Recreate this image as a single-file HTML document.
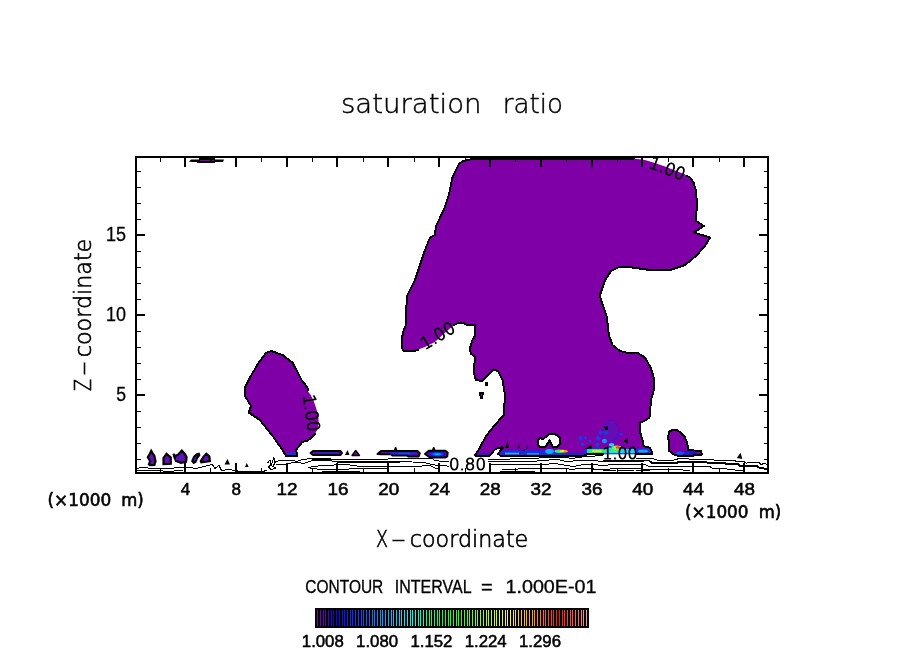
<!DOCTYPE html>
<html lang="en"><head><meta charset="utf-8"><title>saturation ratio</title>
<style>
html,body{margin:0;padding:0;background:#fff;}
body{width:904px;height:654px;overflow:hidden;position:relative;}
svg{position:absolute;left:0;top:0;display:block;}
text{font-family:"DejaVu Sans","Liberation Sans",sans-serif;fill:#000;}
.lt{font-family:"DejaVu Sans Light","DejaVu Sans","Liberation Sans",sans-serif;stroke:#000;stroke-width:0.45;}
.lt2{font-family:"DejaVu Sans Light","DejaVu Sans","Liberation Sans",sans-serif;stroke:#000;stroke-width:0.65;}
.lc{font-family:"DejaVu Sans Light","DejaVu Sans","Liberation Sans",sans-serif;stroke:#000;stroke-width:0.9;}
.lb2{font-family:"Liberation Sans","DejaVu Sans",sans-serif;stroke:#000;stroke-width:0.3;}
.lb3{font-family:"DejaVu Sans","Liberation Sans",sans-serif;stroke:#000;stroke-width:0.6;}
.lb{font-family:"Liberation Sans","DejaVu Sans",sans-serif;stroke:#000;stroke-width:0.5;}
.ol{fill:none;stroke:#000;stroke-width:2;stroke-linejoin:round;stroke-linecap:round;shape-rendering:crispEdges;}
.cl{fill:none;stroke:#000;stroke-width:1;shape-rendering:crispEdges;}
.tk{stroke:#000;}
</style></head><body>
<svg width="904" height="654" viewBox="0 0 904 654">
<defs>
<linearGradient id="cb" x1="0" y1="0" x2="1" y2="0">
<stop offset="0" stop-color="#8000A8"/>
<stop offset="0.04" stop-color="#6000c0"/>
<stop offset="0.09" stop-color="#0000d0"/>
<stop offset="0.16" stop-color="#0030ff"/>
<stop offset="0.25" stop-color="#0090ff"/>
<stop offset="0.33" stop-color="#00e0ff"/>
<stop offset="0.4" stop-color="#00ffc0"/>
<stop offset="0.48" stop-color="#00ff40"/>
<stop offset="0.56" stop-color="#40ff00"/>
<stop offset="0.64" stop-color="#b0ff00"/>
<stop offset="0.72" stop-color="#ffff00"/>
<stop offset="0.8" stop-color="#ffb000"/>
<stop offset="0.86" stop-color="#ff6000"/>
<stop offset="0.91" stop-color="#ff1000"/>
<stop offset="0.94" stop-color="#ff4040"/>
<stop offset="1.0" stop-color="#ff9090"/>
</linearGradient>
<radialGradient id="gy"><stop offset="0" stop-color="#e0ff00"/><stop offset="0.35" stop-color="#00ff60"/><stop offset="0.65" stop-color="#00c0ff"/><stop offset="1" stop-color="#1020d0"/></radialGradient>
<radialGradient id="gc"><stop offset="0" stop-color="#40ffb0"/><stop offset="0.45" stop-color="#00d0ff"/><stop offset="1" stop-color="#1020d0"/></radialGradient>
<radialGradient id="gr"><stop offset="0" stop-color="#ff3000"/><stop offset="0.4" stop-color="#ffd000"/><stop offset="0.7" stop-color="#00e0ff"/><stop offset="1" stop-color="#1030e0"/></radialGradient>
<radialGradient id="gb"><stop offset="0" stop-color="#00d8ff"/><stop offset="0.5" stop-color="#0060ff"/><stop offset="1" stop-color="#2000c0"/></radialGradient>
<radialGradient id="gd"><stop offset="0" stop-color="#0040ff"/><stop offset="0.6" stop-color="#1010d0"/><stop offset="1" stop-color="#5000b8"/></radialGradient>
<filter id="bl" x="-5%" y="-5%" width="110%" height="110%"><feGaussianBlur stdDeviation="0.55"/></filter>
</defs>
<rect x="0" y="0" width="904" height="654" fill="#fff"/>
<path d="M490.0,158.6 L468.0,159.6 L463.0,161.0 L459.5,163.5 L457.5,167.0 L452.5,177.5 L448.8,195.0 L443.8,210.0 L436.0,226.0 L435.0,235.0 L430.0,237.5 L425.0,250.0 L420.0,265.0 L415.0,280.0 L407.5,295.0 L406.0,310.0 L405.5,326.0 L403.0,332.0 L401.5,343.0 L402.0,348.0 L404.0,351.3 L413.0,351.3 L418.0,349.8 L425.0,346.9 L434.9,341.9 L444.8,333.0 L453.8,325.0 L457.8,323.0 L462.7,322.5 L466.7,325.0 L475.2,325.0 L475.2,335.0 L471.7,341.9 L469.7,349.8 L471.2,353.8 L475.0,356.5 L473.8,372.5 L476.0,380.0 L482.5,381.0 L488.8,373.8 L493.8,369.5 L498.0,371.0 L502.5,380.0 L505.0,395.0 L503.8,415.0 L495.0,425.0 L486.0,436.0 L480.0,447.5 L475.0,455.5 L476.0,456.2 L488.0,456.2 L491.0,454.6 L494.0,450.5 L496.0,448.7 L502.0,447.2 L503.0,448.2 L498.0,453.6 L500.0,455.5 L584.0,455.5 L587.0,454.3 L603.0,454.3 L637.0,454.3 L652.3,454.3 L651.5,451.0 L650.0,447.8 L643.5,446.0 L642.5,440.0 L639.5,430.0 L640.5,422.5 L645.0,420.5 L649.5,417.5 L651.0,400.0 L653.8,390.0 L653.8,377.5 L650.5,367.5 L645.0,357.5 L637.5,353.0 L627.5,353.0 L620.0,351.0 L612.5,345.0 L608.8,335.0 L607.0,317.5 L601.0,300.0 L600.0,295.0 L605.0,280.0 L611.0,271.0 L618.8,267.0 L632.5,267.5 L650.0,270.0 L670.0,270.0 L685.0,265.0 L696.0,256.0 L705.0,246.0 L710.0,237.5 L693.8,232.5 L703.8,226.0 L696.0,221.0 L697.0,202.5 L695.7,190.0 L693.7,183.0 L690.5,177.8 L686.8,176.0 L685.0,174.4 L675.0,170.4 L665.0,166.4 L655.0,163.0 L645.0,160.0 L634.0,158.6 Z M537.5,440.8 L540.0,437.8 L543.0,439.4 L545.4,437.2 L547.9,434.7 L551.5,433.6 L556.4,434.7 L560.0,438.4 L560.6,443.2 L557.6,446.9 L552.7,446.9 L550.9,443.2 L549.7,440.4 L547.9,443.2 L545.4,446.9 L540.6,447.5 L538.1,445.0 Z" fill="#8000A8" fill-rule="evenodd"/>
<path d="M315.0,433.5 L312.8,436.7 L307.5,440.5 L302.1,442.0 L298.9,446.4 L296.0,450.0 L297.5,456.0 L286.0,456.0 L282.5,450.0 L273.8,437.5 L260.0,420.0 L248.8,412.5 L251.0,406.0 L245.0,396.0 L245.0,387.5 L250.0,377.5 L258.8,362.5 L266.0,353.0 L271.0,351.0 L282.5,355.0 L292.5,362.5 L301.6,380.0 L307.5,387.5 L307.5,390.7 L310.7,395.0 L313.9,401.4 L316.0,407.8 L318.2,415.3 L318.7,422.8 L317.1,430.3 Z" fill="#8000A8"/>
<path d="M668.3,436.0 L669.5,431.5 L672.7,429.7 L678.0,430.6 L684.2,436.0 L687.4,443.0 L687.8,450.0 L701.0,451.0 L702.0,454.5 L686.9,456.3 L675.4,455.4 L669.2,451.0 Z" fill="#8000A8"/>
<clipPath id="bigclip"><path d="M490.0,158.6 L468.0,159.6 L463.0,161.0 L459.5,163.5 L457.5,167.0 L452.5,177.5 L448.8,195.0 L443.8,210.0 L436.0,226.0 L435.0,235.0 L430.0,237.5 L425.0,250.0 L420.0,265.0 L415.0,280.0 L407.5,295.0 L406.0,310.0 L405.5,326.0 L403.0,332.0 L401.5,343.0 L402.0,348.0 L404.0,351.3 L413.0,351.3 L418.0,349.8 L425.0,346.9 L434.9,341.9 L444.8,333.0 L453.8,325.0 L457.8,323.0 L462.7,322.5 L466.7,325.0 L475.2,325.0 L475.2,335.0 L471.7,341.9 L469.7,349.8 L471.2,353.8 L475.0,356.5 L473.8,372.5 L476.0,380.0 L482.5,381.0 L488.8,373.8 L493.8,369.5 L498.0,371.0 L502.5,380.0 L505.0,395.0 L503.8,415.0 L495.0,425.0 L486.0,436.0 L480.0,447.5 L475.0,455.5 L476.0,456.2 L488.0,456.2 L491.0,454.6 L494.0,450.5 L496.0,448.7 L502.0,447.2 L503.0,448.2 L498.0,453.6 L500.0,455.5 L584.0,455.5 L587.0,454.3 L603.0,454.3 L637.0,454.3 L652.3,454.3 L651.5,451.0 L650.0,447.8 L643.5,446.0 L642.5,440.0 L639.5,430.0 L640.5,422.5 L645.0,420.5 L649.5,417.5 L651.0,400.0 L653.8,390.0 L653.8,377.5 L650.5,367.5 L645.0,357.5 L637.5,353.0 L627.5,353.0 L620.0,351.0 L612.5,345.0 L608.8,335.0 L607.0,317.5 L601.0,300.0 L600.0,295.0 L605.0,280.0 L611.0,271.0 L618.8,267.0 L632.5,267.5 L650.0,270.0 L670.0,270.0 L685.0,265.0 L696.0,256.0 L705.0,246.0 L710.0,237.5 L693.8,232.5 L703.8,226.0 L696.0,221.0 L697.0,202.5 L695.7,190.0 L693.7,183.0 L690.5,177.8 L686.8,176.0 L685.0,174.4 L675.0,170.4 L665.0,166.4 L655.0,163.0 L645.0,160.0 L634.0,158.6 Z M537.5,440.8 L540.0,437.8 L543.0,439.4 L545.4,437.2 L547.9,434.7 L551.5,433.6 L556.4,434.7 L560.0,438.4 L560.6,443.2 L557.6,446.9 L552.7,446.9 L550.9,443.2 L549.7,440.4 L547.9,443.2 L545.4,446.9 L540.6,447.5 L538.1,445.0 Z" clip-rule="evenodd"/></clipPath>
<g clip-path="url(#bigclip)"><g filter="url(#bl)">
<path d="M603,442 L602,430 L606,421 L613,420 L618,426 L618.5,436 L612,443 Z" fill="#6408b6"/>
<path d="M612,441 L621,431 L623,433 L614,443 Z" fill="#5a10bc"/>
<rect x="476" y="452.5" width="16" height="3" fill="#4a10c0"/>
<rect x="501" y="450.2" width="67" height="5.3" fill="#1c2ce0"/>
<rect x="566" y="452.3" width="20" height="3.2" fill="#3018c8"/>
<rect x="585" y="448.6" width="67" height="5.6" fill="#1838e4"/>
<rect x="505" y="452.6" width="14" height="1.8" fill="#20a8ff"/>
<rect x="527" y="452.9" width="12" height="1.8" fill="#1888ff"/>
<ellipse cx="549.5" cy="451.4" rx="4.2" ry="2.3" fill="#10b0ff"/>
<ellipse cx="559" cy="451.2" rx="4.5" ry="1.7" fill="#30f060"/>
<ellipse cx="562.8" cy="451.2" rx="3" ry="1.4" fill="#e8f000"/>
<ellipse cx="565.8" cy="451.2" rx="1.9" ry="1.2" fill="#ff9000"/>
<rect x="587" y="449" width="21" height="4.4" fill="#10d0ff"/>
<rect x="589" y="449.4" width="17" height="3.4" fill="#28f068"/>
<rect x="592" y="450" width="10" height="2" fill="#b8f818"/>
<rect x="607" y="447.6" width="14" height="5.6" fill="#18e0c8"/>
<rect x="611" y="449.5" width="8" height="3" fill="#30f080"/>
<rect x="621" y="449" width="14" height="4.2" fill="#20d0e8"/>
<ellipse cx="643" cy="451.2" rx="5" ry="1.4" fill="#10a8ff"/>
<ellipse cx="604.5" cy="441" rx="2.6" ry="2.2" fill="#1090ff"/>
<ellipse cx="611.5" cy="444.8" rx="2.8" ry="1.8" fill="#20d0ff"/>
<ellipse cx="616.5" cy="447.8" rx="4.8" ry="2.3" fill="#60f080"/>
<ellipse cx="617.5" cy="447.6" rx="3.2" ry="1.7" fill="#f0e020"/>
<ellipse cx="618" cy="447.5" rx="2.4" ry="1.3" fill="#ff4010"/>
<rect x="598.7" y="430.5" width="3.8" height="3.8" fill="#2038e0" transform="rotate(45 600.6 432.4)"/>
<rect x="603.9" y="430.6" width="3.8" height="3.8" fill="#2038e0" transform="rotate(45 605.8 432.5)"/>
<rect x="578.5" y="436.3" width="3.8" height="3.8" fill="#2038e0" transform="rotate(45 580.4 438.2)"/>
<rect x="584.1" y="436.6" width="2.8" height="2.8" fill="#2038e0" transform="rotate(45 585.5 438)"/>
<rect x="595.9" y="436.09999999999997" width="4.2" height="4.2" fill="#2038e0" transform="rotate(45 598 438.2)"/>
<rect x="581.1" y="442.59999999999997" width="3.2" height="3.2" fill="#2038e0" transform="rotate(45 582.7 444.2)"/>
<rect x="595.3" y="442.7" width="4.0" height="4.0" fill="#2038e0" transform="rotate(45 597.3 444.7)"/>
<rect x="588.8" y="439.8" width="2.4" height="2.4" fill="#2038e0" transform="rotate(45 590 441)"/>
<rect x="619.8" y="432.8" width="2.4" height="2.4" fill="#2038e0" transform="rotate(45 621 434)"/>
</g></g>
<ellipse cx="687" cy="453" rx="11" ry="1.8" fill="url(#gd)"/>
<ellipse cx="680" cy="453" rx="4" ry="1.5" fill="#0060ff"/>
<ellipse cx="292" cy="454" rx="4.5" ry="2" fill="#1030e0"/>
<path class="ol" d="M634.0,158.5 L490.0,158.6 L468.0,159.6 L463.0,161.0 L459.5,163.5 L457.5,167.0 L452.5,177.5 L448.8,195.0 L443.8,210.0 L436.0,226.0 L435.0,235.0 L430.0,237.5 L425.0,250.0 L420.0,265.0 L415.0,280.0 L407.5,295.0 L406.0,310.0 L405.5,326.0 L403.0,332.0 L401.5,343.0 L402.0,348.0 L404.0,351.3 L413.0,351.3 L418.0,349.8"/>
<path class="ol" d="M453.8,325.0 L457.8,323.0 L462.7,322.5 L466.7,325.0 L475.2,325.0 L475.2,335.0 L471.7,341.9 L469.7,349.8 L471.2,353.8 L475.0,356.5 L473.8,372.5 L476.0,380.0 L482.5,381.0 L488.8,373.8 L493.8,369.5 L498.0,371.0 L502.5,380.0 L505.0,395.0 L503.8,415.0 L495.0,425.0 L486.0,436.0 L480.0,447.5 L475.0,455.5 L476.0,456.2 L488.0,456.2 L491.0,454.6 L494.0,450.5 L496.0,448.7 L502.0,447.2 L503.0,448.2 L498.0,453.6 L500.0,455.5 L584.0,455.5 L587.0,454.3 L603.0,454.3"/>
<path class="ol" d="M637.0,454.3 L652.3,454.3 L651.5,451.0 L650.0,447.8 L643.5,446.0 L642.5,440.0 L639.5,430.0 L640.5,422.5 L645.0,420.5 L649.5,417.5 L651.0,400.0 L653.8,390.0 L653.8,377.5 L650.5,367.5 L645.0,357.5 L637.5,353.0 L627.5,353.0 L620.0,351.0 L612.5,345.0 L608.8,335.0 L607.0,317.5 L601.0,300.0 L600.0,295.0 L605.0,280.0 L611.0,271.0 L618.8,267.0 L632.5,267.5 L650.0,270.0 L670.0,270.0 L685.0,265.0 L696.0,256.0 L705.0,246.0 L710.0,237.5 L693.8,232.5 L703.8,226.0 L696.0,221.0 L697.0,202.5 L695.7,190.0 L693.7,183.0 L690.5,177.8 L686.8,176.0"/>
<path class="ol" d="M537.5,440.8 L540.0,437.8 L543.0,439.4 L545.4,437.2 L547.9,434.7 L551.5,433.6 L556.4,434.7 L560.0,438.4 L560.6,443.2 L557.6,446.9 L552.7,446.9 L550.9,443.2 L549.7,440.4 L547.9,443.2 L545.4,446.9 L540.6,447.5 L538.1,445.0 Z"/>
<path class="ol" d="M315.0,433.5 L312.8,436.7 L307.5,440.5 L302.1,442.0 L298.9,446.4 L296.0,450.0 L297.5,456.0 L286.0,456.0 L282.5,450.0 L273.8,437.5 L260.0,420.0 L248.8,412.5 L251.0,406.0 L245.0,396.0 L245.0,387.5 L250.0,377.5 L258.8,362.5 L266.0,353.0 L271.0,351.0 L282.5,355.0 L292.5,362.5 L301.6,380.0 L307.5,387.5 L307.5,390.7"/>
<path class="ol" d="M668.3,436.0 L669.5,431.5 L672.7,429.7 L678.0,430.6 L684.2,436.0 L687.4,443.0 L687.8,450.0 L701.0,451.0 L702.0,454.5 L686.9,456.3 L675.4,455.4 L669.2,451.0 Z"/>
<path d="M484.5,382 l3.5,0 l-0.5,4.2 l-2.5,0 Z M478.8,392.2 l5.4,0 l-1.6,7 l-2.6,0 Z" fill="#000" shape-rendering="crispEdges"/>
<rect x="481" y="394" width="1" height="2" fill="#8000A8"/>
<path d="M505,448 l2.5,-6.6 l1.5,6.6 Z M517.4,448 l1.6,-3 l1.5,3.7 Z M521,451 l3.7,-1.7 l0,1.7 Z M526,448.7 l1.3,-3.7 l0.5,3.7 Z M584.4,448.7 l7.2,-3.9 l0,3.9 Z M604,426.6 l4,0 l0,3.4 l-2.5,0 Z M623.6,441 l4,-3 l0.4,5.7 Z" fill="#000"/>
<path d="M189,161.5 L191,159.5 L199,159.5 L199,158 L215,158 L215,159.5 L224,159.5 L223,162 L215,162 L215,163 L197,163 L197,162 L192,162 Z" fill="#000"/>
<rect x="200" y="160" width="11" height="1" fill="#8000A8"/><rect x="212" y="160" width="2" height="1" fill="#8000A8"/>
<path d="M151.2,450.8 L152.5,453.0 L154.4,456.0 L155.5,461.3 L154.4,465.0 L150.0,465.2 L148.9,464.3 L150.2,461.3 L147.8,457.3 L149.7,454.0 Z" fill="#8000A8" stroke="#000" stroke-width="2.2" stroke-linejoin="miter"/>
<path d="M166.5,453.8 L170.8,457.5 L170.8,463.8 L163.5,464.2 L163.5,458.0 Z" fill="#8000A8" stroke="#000" stroke-width="2.2" stroke-linejoin="miter"/>
<path d="M173.5,453.8 L175.0,456.3 L178.0,454.7 L181.8,450.6 L185.0,454.2 L186.6,457.3 L186.0,461.8 L181.0,462.9 L176.0,461.0 L174.3,457.0 Z" fill="#8000A8" stroke="#000" stroke-width="2.2" stroke-linejoin="miter"/>
<path d="M198.8,453.8 L199.3,455.0 L197.0,458.0 L195.5,461.8 L193.8,462.8 L192.3,461.0 L194.2,456.7 L196.5,454.5 Z" fill="#8000A8" stroke="#000" stroke-width="2.2" stroke-linejoin="miter"/>
<path d="M206.4,453.8 L209.3,456.2 L209.9,461.0 L206.0,461.7 L201.3,462.2 L200.8,461.0 L203.2,457.2 Z" fill="#8000A8" stroke="#000" stroke-width="2.2" stroke-linejoin="miter"/>
<ellipse cx="151.5" cy="457.5" rx="1" ry="2" fill="#4020c8"/>
<ellipse cx="152" cy="462.5" rx="1.2" ry="1.2" fill="#4020c8"/>
<ellipse cx="167" cy="460" rx="1.6" ry="2.6" fill="#4020c8"/>
<ellipse cx="181" cy="457.5" rx="2.6" ry="2.8" fill="#4020c8"/>
<ellipse cx="176.5" cy="459" rx="1" ry="1.2" fill="#4020c8"/>
<ellipse cx="195.5" cy="458.5" rx="0.8" ry="1.8" fill="#4020c8"/>
<ellipse cx="206" cy="458.5" rx="1.5" ry="2.2" fill="#4020c8"/>
<path d="M224.5,464.5 L227.5,459 L230,464.5 Z M245,467 L246.8,463 L248.6,467 Z" fill="#000"/>
<path d="M310.5,453 L313,451 L340.5,451 L342,453 L340.5,455 L313,455 Z" fill="#5a08b0" stroke="#000" stroke-width="2" stroke-linejoin="round"/>
<rect x="320" y="452.3" width="17" height="1.6" fill="#2820d0"/>
<path d="M345,455 L347.5,450 L349.5,455 Z" fill="#000"/>
<path d="M352,455.5 L355.7,450.5 L359.5,455.5 Z" fill="#8000A8" stroke="#000" stroke-width="1.4" stroke-linejoin="round"/>
<path d="M377.5,454 L381,451 L394.6,451 L395.6,448 L396.6,451 L417.5,451 L419.8,453.3 L418.5,456.5 L408.4,456.5 L407,455.4 L392.5,455.4 L391,454.2 L381,454.2 Z" fill="#5a08b0" stroke="#000" stroke-width="2" stroke-linejoin="round"/>
<rect x="390" y="452.2" width="25" height="2.2" fill="#1828e0"/>
<rect x="398" y="452.6" width="12" height="1.6" fill="#0848ff"/>
<path d="M425,454 L428.8,450.8 L432.7,450.8 L433.7,448 L434.7,450.8 L445.4,450.8 L447.7,452.8 L447.2,456.4 L445.4,457.5 L430,457.5 Z" fill="#5008b8" stroke="#000" stroke-width="2" stroke-linejoin="round"/>
<ellipse cx="437.3" cy="454.2" rx="8" ry="2.4" fill="url(#gb)"/>
<path d="M736.8,458 L740.6,452.8 L742.3,459 Z" fill="#000"/>
<g class="cl">
<path d="M136.6,468.5 L141.0,467.5 L146.0,467.5 L150.0,468.5 L156.6,468.5 L170.0,468.5 L178.0,467.5 L184.5,467.5 L190.0,467.5 L196.4,468.5 L204.4,466.5 L212.3,464.5 L215.0,468.5 L219.0,465.5 L221.6,470.5 L228.3,469.5 L235.0,470.5 L240.0,471.5 L262.0,471.5 L267.0,470.5"/>
<path d="M137.0,470.5 L160.0,470.5 L166.0,471.5 L183.0,470.5"/>
<path d="M267.5,463.0 L270.0,460.0 L271.0,466.0 L274.0,457.5 L274.5,463.0 L276.0,461.0 L273.0,466.5 L276.0,468.0 L271.0,469.5 L268.5,467.0 L270.5,464.5"/>
<path d="M275.9,461.5 L280.0,460.5 L293.0,460.5 L297.0,461.5 L302.4,459.5 L311.7,458.5 L350.0,459.5 L387.0,459.5 L388.5,458.5 L432.3,458.5 L435.0,460.5 L443.0,461.5 L449.0,461.5"/>
<path d="M488.0,459.5 L533.0,458.5 L545.0,457.5 L565.0,457.5 L572.0,458.5 L578.0,457.5 L587.0,456.5 L603.0,455.5"/>
<path d="M636.0,458.5 L652.7,458.5 L655.0,459.5 L658.2,460.5 L671.3,460.5 L676.0,459.5 L679.0,458.5 L688.4,458.5 L690.0,459.5 L711.6,459.5 L717.0,460.5 L734.8,460.5 L736.3,461.5 L744.0,461.5 L746.4,463.5 L748.0,462.5 L758.8,462.5 L761.0,464.5 L764.2,463.5 L767.0,464.5"/>
<path d="M275.9,464.5 L286.5,464.5 L293.0,462.5 L298.4,462.5 L303.7,463.5 L313.0,460.5 L350.0,461.5 L400.5,461.5 L424.4,462.5 L432.3,464.5 L437.6,465.5 L444.3,465.5 L449.0,466.5"/>
<path d="M488.0,461.5 L534.4,461.5 L539.7,460.5 L558.3,459.5 L566.2,461.5 L580.0,460.5 L592.6,460.5 L603.0,461.5"/>
<path d="M307.7,467.5 L314.4,466.5 L322.3,465.5 L346.2,464.5 L360.0,466.5 L415.0,466.5 L429.7,465.5 L436.3,468.5 L440.0,469.5"/>
<path d="M307.7,467.5 L311.7,468.5 L322.3,469.5 L338.0,469.5 L360.0,468.5 L388.0,468.5"/>
<path d="M490.5,464.5 L534.4,464.5 L542.3,464.5 L555.6,463.5 L566.2,465.5 L574.2,466.5 L583.0,464.5 L592.0,464.5 L604.5,465.5 L612.0,464.5 L641.7,464.5 L645.0,464.5 L647.3,465.5 L648.9,466.5 L691.5,466.5 L710.0,466.5 L712.4,468.5 L726.3,468.5 L727.8,469.5 L734.0,469.5 L735.6,470.5 L743.3,470.5"/>
<path d="M502.5,469.5 L534.4,468.5 L546.3,468.5 L558.3,468.5 L566.2,468.5 L571.5,469.5 L578.0,468.5 L590.0,468.5 L597.0,469.5 L604.5,469.5 L616.0,468.5 L636.0,468.5 L649.6,469.5 L682.2,469.5 L684.0,470.5 L690.0,470.5"/>
<path d="M322,471.5 L360,471.5 M500,471.5 L535,471.5 M603,470.5 L616,470.5 M618,470.5 L634,470.5 M636,470.5 L650,470.5"/>
<path d="M312,459.5 L386,459.5 M337,462.5 L400,462.5"/>
<path d="M603.0,461.0 L645.0,460.5 L648.9,460.5 L651.2,462.5 L677.5,462.5 L679.0,461.5 L705.4,461.5 L707.0,462.5 L724.7,462.5 L726.3,464.0 L737.9,464.0 L739.4,465.5 L756.5,465.5 L758.8,467.5 L764.2,468.5 L767.0,468.5" stroke-width="2"/>
</g>
<g shape-rendering="crispEdges">
<rect x="136" y="157" width="632" height="316" fill="none" stroke="#000" stroke-width="2"/>
<rect x="160" y="158" width="1" height="4"/>
<rect x="160" y="468" width="1" height="4"/>
<rect x="184" y="158" width="2" height="9"/>
<rect x="184" y="463" width="2" height="9"/>
<rect x="210" y="158" width="1" height="4"/>
<rect x="210" y="468" width="1" height="4"/>
<rect x="235" y="158" width="2" height="9"/>
<rect x="235" y="463" width="2" height="9"/>
<rect x="261" y="158" width="1" height="4"/>
<rect x="261" y="468" width="1" height="4"/>
<rect x="286" y="158" width="2" height="9"/>
<rect x="286" y="463" width="2" height="9"/>
<rect x="312" y="158" width="1" height="4"/>
<rect x="312" y="468" width="1" height="4"/>
<rect x="336" y="158" width="2" height="9"/>
<rect x="336" y="463" width="2" height="9"/>
<rect x="363" y="158" width="1" height="4"/>
<rect x="363" y="468" width="1" height="4"/>
<rect x="387" y="158" width="2" height="9"/>
<rect x="387" y="463" width="2" height="9"/>
<rect x="414" y="158" width="1" height="4"/>
<rect x="414" y="468" width="1" height="4"/>
<rect x="438" y="158" width="2" height="9"/>
<rect x="438" y="463" width="2" height="9"/>
<rect x="465" y="158" width="1" height="4"/>
<rect x="465" y="468" width="1" height="4"/>
<rect x="489" y="158" width="2" height="9"/>
<rect x="489" y="463" width="2" height="9"/>
<rect x="515" y="158" width="1" height="4"/>
<rect x="515" y="468" width="1" height="4"/>
<rect x="540" y="158" width="2" height="9"/>
<rect x="540" y="463" width="2" height="9"/>
<rect x="566" y="158" width="1" height="4"/>
<rect x="566" y="468" width="1" height="4"/>
<rect x="591" y="158" width="2" height="9"/>
<rect x="591" y="463" width="2" height="9"/>
<rect x="617" y="158" width="1" height="4"/>
<rect x="617" y="468" width="1" height="4"/>
<rect x="641" y="158" width="2" height="9"/>
<rect x="641" y="463" width="2" height="9"/>
<rect x="668" y="158" width="1" height="4"/>
<rect x="668" y="468" width="1" height="4"/>
<rect x="692" y="158" width="2" height="9"/>
<rect x="692" y="463" width="2" height="9"/>
<rect x="719" y="158" width="1" height="4"/>
<rect x="719" y="468" width="1" height="4"/>
<rect x="743" y="158" width="2" height="9"/>
<rect x="743" y="463" width="2" height="9"/>
<rect x="137" y="171" width="4" height="1"/>
<rect x="764" y="171" width="3" height="1"/>
<rect x="137" y="187" width="4" height="1"/>
<rect x="764" y="187" width="3" height="1"/>
<rect x="137" y="203" width="4" height="1"/>
<rect x="764" y="203" width="3" height="1"/>
<rect x="137" y="219" width="4" height="1"/>
<rect x="764" y="219" width="3" height="1"/>
<rect x="137" y="234" width="8" height="2"/>
<rect x="759" y="234" width="8" height="2"/>
<rect x="137" y="251" width="4" height="1"/>
<rect x="764" y="251" width="3" height="1"/>
<rect x="137" y="267" width="4" height="1"/>
<rect x="764" y="267" width="3" height="1"/>
<rect x="137" y="283" width="4" height="1"/>
<rect x="764" y="283" width="3" height="1"/>
<rect x="137" y="299" width="4" height="1"/>
<rect x="764" y="299" width="3" height="1"/>
<rect x="137" y="314" width="8" height="2"/>
<rect x="759" y="314" width="8" height="2"/>
<rect x="137" y="331" width="4" height="1"/>
<rect x="764" y="331" width="3" height="1"/>
<rect x="137" y="347" width="4" height="1"/>
<rect x="764" y="347" width="3" height="1"/>
<rect x="137" y="363" width="4" height="1"/>
<rect x="764" y="363" width="3" height="1"/>
<rect x="137" y="379" width="4" height="1"/>
<rect x="764" y="379" width="3" height="1"/>
<rect x="137" y="394" width="8" height="2"/>
<rect x="759" y="394" width="8" height="2"/>
<rect x="137" y="411" width="4" height="1"/>
<rect x="764" y="411" width="3" height="1"/>
<rect x="137" y="427" width="4" height="1"/>
<rect x="764" y="427" width="3" height="1"/>
<rect x="137" y="443" width="4" height="1"/>
<rect x="764" y="443" width="3" height="1"/>
<rect x="137" y="459" width="4" height="1"/>
<rect x="764" y="459" width="3" height="1"/>
</g>
<text x="341" y="112.6" font-size="26.5" textLength="140.5" lengthAdjust="spacingAndGlyphs" class="lt" text-anchor="start">saturation</text>
<text x="502.8" y="112.6" font-size="26.5" textLength="60.3" lengthAdjust="spacingAndGlyphs" class="lt" text-anchor="start">ratio</text>
<text y="547" font-size="22.5" class="lt2"><tspan x="376" textLength="12" lengthAdjust="spacingAndGlyphs">X</tspan><tspan x="391" textLength="15" lengthAdjust="spacingAndGlyphs">-</tspan><tspan x="409.8" textLength="118.5" lengthAdjust="spacingAndGlyphs">coordinate</tspan></text>
<g transform="translate(90.6,391) rotate(-90)">
<text y="0" font-size="22.5" class="lt2"><tspan x="0" textLength="12" lengthAdjust="spacingAndGlyphs">Z</tspan><tspan x="15" textLength="15" lengthAdjust="spacingAndGlyphs">-</tspan><tspan x="33.8" textLength="118.5" lengthAdjust="spacingAndGlyphs">coordinate</tspan></text>
</g>
<text x="180.7" y="494.7" font-size="16" textLength="9.5" lengthAdjust="spacingAndGlyphs" class="lb" text-anchor="start">4</text>
<text x="231.5" y="494.7" font-size="16" textLength="9.5" lengthAdjust="spacingAndGlyphs" class="lb" text-anchor="start">8</text>
<text x="276.5" y="494.7" font-size="16" textLength="21" lengthAdjust="spacingAndGlyphs" class="lb" text-anchor="start">12</text>
<text x="327.4" y="494.7" font-size="16" textLength="21" lengthAdjust="spacingAndGlyphs" class="lb" text-anchor="start">16</text>
<text x="378.2" y="494.7" font-size="16" textLength="21" lengthAdjust="spacingAndGlyphs" class="lb" text-anchor="start">20</text>
<text x="429.0" y="494.7" font-size="16" textLength="21" lengthAdjust="spacingAndGlyphs" class="lb" text-anchor="start">24</text>
<text x="479.8" y="494.7" font-size="16" textLength="21" lengthAdjust="spacingAndGlyphs" class="lb" text-anchor="start">28</text>
<text x="530.6" y="494.7" font-size="16" textLength="21" lengthAdjust="spacingAndGlyphs" class="lb" text-anchor="start">32</text>
<text x="581.5" y="494.7" font-size="16" textLength="21" lengthAdjust="spacingAndGlyphs" class="lb" text-anchor="start">36</text>
<text x="632.3" y="494.7" font-size="16" textLength="21" lengthAdjust="spacingAndGlyphs" class="lb" text-anchor="start">40</text>
<text x="683.1" y="494.7" font-size="16" textLength="21" lengthAdjust="spacingAndGlyphs" class="lb" text-anchor="start">44</text>
<text x="733.9" y="494.7" font-size="16" textLength="21" lengthAdjust="spacingAndGlyphs" class="lb" text-anchor="start">48</text>
<text x="106.0" y="241" font-size="19.5" textLength="20" lengthAdjust="spacingAndGlyphs" class="lb2" text-anchor="start">15</text>
<text x="106.0" y="321" font-size="19.5" textLength="20" lengthAdjust="spacingAndGlyphs" class="lb2" text-anchor="start">10</text>
<text x="116.2" y="401" font-size="19.5" textLength="9.8" lengthAdjust="spacingAndGlyphs" class="lb2" text-anchor="start">5</text>
<text y="506.3" font-size="17" class="lb3"><tspan x="47.5" textLength="63.7" lengthAdjust="spacingAndGlyphs">(×1000</tspan> <tspan x="121.2" textLength="22.5" lengthAdjust="spacingAndGlyphs">m)</tspan></text>
<text y="517.5" font-size="17" class="lb3"><tspan x="685" textLength="63.5" lengthAdjust="spacingAndGlyphs">(×1000</tspan> <tspan x="758.7" textLength="22.5" lengthAdjust="spacingAndGlyphs">m)</tspan></text>
<text y="593" font-size="18" class="lb2"><tspan x="305.3" textLength="78" lengthAdjust="spacingAndGlyphs">CONTOUR</tspan> <tspan x="394.7" textLength="76.3" lengthAdjust="spacingAndGlyphs">INTERVAL</tspan> <tspan x="481" textLength="11.7" lengthAdjust="spacingAndGlyphs">=</tspan> <tspan x="505.5" textLength="91" lengthAdjust="spacingAndGlyphs">1.000E-01</tspan></text>
<text x="301.8" y="646.6" font-size="16" textLength="42" lengthAdjust="spacingAndGlyphs" class="lb" text-anchor="start">1.008</text>
<text x="356.1" y="646.6" font-size="16" textLength="42" lengthAdjust="spacingAndGlyphs" class="lb" text-anchor="start">1.080</text>
<text x="410.4" y="646.6" font-size="16" textLength="42" lengthAdjust="spacingAndGlyphs" class="lb" text-anchor="start">1.152</text>
<text x="464.7" y="646.6" font-size="16" textLength="42" lengthAdjust="spacingAndGlyphs" class="lb" text-anchor="start">1.224</text>
<text x="519.0" y="646.6" font-size="16" textLength="42" lengthAdjust="spacingAndGlyphs" class="lb" text-anchor="start">1.296</text>
<g transform="translate(437.5,335.5) rotate(-31)">
<text x="0" y="6" font-size="17" textLength="37" lengthAdjust="spacingAndGlyphs" class="lc" text-anchor="middle">1.00</text>
</g>
<g transform="translate(667.5,168.3) rotate(21)">
<text x="0" y="6" font-size="17" textLength="37" lengthAdjust="spacingAndGlyphs" class="lc" text-anchor="middle">1.00</text>
</g>
<g transform="translate(311.5,413) rotate(82)">
<text x="0" y="6" font-size="17" textLength="37" lengthAdjust="spacingAndGlyphs" class="lc" text-anchor="middle">1.00</text>
</g>
<text x="449" y="469.5" font-size="16.5" textLength="37" lengthAdjust="spacingAndGlyphs" class="lc" text-anchor="start">0.80</text>
<text x="602.5" y="458.7" font-size="16" textLength="35" lengthAdjust="spacingAndGlyphs" class="lc" text-anchor="start">1.00</text>
<rect x="315" y="608" width="274" height="20" fill="#000"/>
<g shape-rendering="crispEdges">
<rect x="317" y="610" width="1" height="16" fill="#8000a8"/>
<rect x="320" y="610" width="1" height="16" fill="#7300af"/>
<rect x="323" y="610" width="1" height="16" fill="#6600b7"/>
<rect x="325" y="610" width="1" height="16" fill="#5900be"/>
<rect x="328" y="610" width="1" height="16" fill="#4300c8"/>
<rect x="331" y="610" width="1" height="16" fill="#2d00d3"/>
<rect x="333" y="610" width="1" height="16" fill="#1800dd"/>
<rect x="336" y="610" width="1" height="16" fill="#0f06e8"/>
<rect x="339" y="610" width="1" height="16" fill="#070bf4"/>
<rect x="342" y="610" width="1" height="16" fill="#0011ff"/>
<rect x="344" y="610" width="1" height="16" fill="#001aff"/>
<rect x="347" y="610" width="1" height="16" fill="#0023ff"/>
<rect x="350" y="610" width="1" height="16" fill="#002cff"/>
<rect x="352" y="610" width="1" height="16" fill="#0035ff"/>
<rect x="355" y="610" width="1" height="16" fill="#003eff"/>
<rect x="358" y="610" width="1" height="16" fill="#0047ff"/>
<rect x="361" y="610" width="1" height="16" fill="#0050ff"/>
<rect x="363" y="610" width="1" height="16" fill="#0059ff"/>
<rect x="366" y="610" width="1" height="16" fill="#0062ff"/>
<rect x="369" y="610" width="1" height="16" fill="#006cff"/>
<rect x="372" y="610" width="1" height="16" fill="#0076ff"/>
<rect x="374" y="610" width="1" height="16" fill="#0080ff"/>
<rect x="377" y="610" width="1" height="16" fill="#008aff"/>
<rect x="380" y="610" width="1" height="16" fill="#0094ff"/>
<rect x="382" y="610" width="1" height="16" fill="#009eff"/>
<rect x="385" y="610" width="1" height="16" fill="#00a9ff"/>
<rect x="388" y="610" width="1" height="16" fill="#00b2ff"/>
<rect x="391" y="610" width="1" height="16" fill="#00bcff"/>
<rect x="393" y="610" width="1" height="16" fill="#00c5ff"/>
<rect x="396" y="610" width="1" height="16" fill="#00ceff"/>
<rect x="399" y="610" width="1" height="16" fill="#00d7ff"/>
<rect x="401" y="610" width="1" height="16" fill="#00e1ff"/>
<rect x="404" y="610" width="1" height="16" fill="#00eaff"/>
<rect x="407" y="610" width="1" height="16" fill="#00f1fb"/>
<rect x="410" y="610" width="1" height="16" fill="#00f3f0"/>
<rect x="412" y="610" width="1" height="16" fill="#00f5e4"/>
<rect x="415" y="610" width="1" height="16" fill="#00f7d9"/>
<rect x="418" y="610" width="1" height="16" fill="#00f9ce"/>
<rect x="420" y="610" width="1" height="16" fill="#00fcc2"/>
<rect x="423" y="610" width="1" height="16" fill="#00feb7"/>
<rect x="426" y="610" width="1" height="16" fill="#00ffaa"/>
<rect x="429" y="610" width="1" height="16" fill="#00ff99"/>
<rect x="431" y="610" width="1" height="16" fill="#00ff89"/>
<rect x="434" y="610" width="1" height="16" fill="#00ff79"/>
<rect x="437" y="610" width="1" height="16" fill="#00ff69"/>
<rect x="439" y="610" width="1" height="16" fill="#00ff59"/>
<rect x="442" y="610" width="1" height="16" fill="#03ff4b"/>
<rect x="445" y="610" width="1" height="16" fill="#0aff3f"/>
<rect x="448" y="610" width="1" height="16" fill="#11ff34"/>
<rect x="450" y="610" width="1" height="16" fill="#18ff28"/>
<rect x="453" y="610" width="1" height="16" fill="#1fff1d"/>
<rect x="456" y="610" width="1" height="16" fill="#26ff11"/>
<rect x="458" y="610" width="1" height="16" fill="#2dff05"/>
<rect x="461" y="610" width="1" height="16" fill="#37ff00"/>
<rect x="464" y="610" width="1" height="16" fill="#43ff00"/>
<rect x="467" y="610" width="1" height="16" fill="#50ff00"/>
<rect x="469" y="610" width="1" height="16" fill="#5cff00"/>
<rect x="472" y="610" width="1" height="16" fill="#69ff00"/>
<rect x="475" y="610" width="1" height="16" fill="#76ff00"/>
<rect x="477" y="610" width="1" height="16" fill="#82ff00"/>
<rect x="480" y="610" width="1" height="16" fill="#8fff00"/>
<rect x="483" y="610" width="1" height="16" fill="#9bff00"/>
<rect x="486" y="610" width="1" height="16" fill="#a7ff00"/>
<rect x="488" y="610" width="1" height="16" fill="#b1ff00"/>
<rect x="491" y="610" width="1" height="16" fill="#bcff00"/>
<rect x="494" y="610" width="1" height="16" fill="#c7ff00"/>
<rect x="496" y="610" width="1" height="16" fill="#d1ff00"/>
<rect x="499" y="610" width="1" height="16" fill="#dcff00"/>
<rect x="502" y="610" width="1" height="16" fill="#e7ff00"/>
<rect x="505" y="610" width="1" height="16" fill="#f1ff00"/>
<rect x="507" y="610" width="1" height="16" fill="#fcff00"/>
<rect x="510" y="610" width="1" height="16" fill="#fff700"/>
<rect x="513" y="610" width="1" height="16" fill="#ffed00"/>
<rect x="515" y="610" width="1" height="16" fill="#ffe200"/>
<rect x="518" y="610" width="1" height="16" fill="#ffd700"/>
<rect x="521" y="610" width="1" height="16" fill="#ffcd00"/>
<rect x="524" y="610" width="1" height="16" fill="#ffc200"/>
<rect x="526" y="610" width="1" height="16" fill="#ffb700"/>
<rect x="529" y="610" width="1" height="16" fill="#ffad00"/>
<rect x="532" y="610" width="1" height="16" fill="#ffa200"/>
<rect x="534" y="610" width="1" height="16" fill="#ff9500"/>
<rect x="537" y="610" width="1" height="16" fill="#ff8800"/>
<rect x="540" y="610" width="1" height="16" fill="#ff7a00"/>
<rect x="543" y="610" width="1" height="16" fill="#ff6d00"/>
<rect x="545" y="610" width="1" height="16" fill="#ff5f00"/>
<rect x="548" y="610" width="1" height="16" fill="#ff5200"/>
<rect x="551" y="610" width="1" height="16" fill="#ff4200"/>
<rect x="553" y="610" width="1" height="16" fill="#ff3200"/>
<rect x="556" y="610" width="1" height="16" fill="#ff2200"/>
<rect x="559" y="610" width="1" height="16" fill="#ff1200"/>
<rect x="562" y="610" width="1" height="16" fill="#ff1f14"/>
<rect x="564" y="610" width="1" height="16" fill="#ff2f2b"/>
<rect x="567" y="610" width="1" height="16" fill="#ff3c3c"/>
<rect x="570" y="610" width="1" height="16" fill="#ff4646"/>
<rect x="572" y="610" width="1" height="16" fill="#ff5050"/>
<rect x="575" y="610" width="1" height="16" fill="#ff5d5d"/>
<rect x="578" y="610" width="1" height="16" fill="#ff6c6c"/>
<rect x="581" y="610" width="1" height="16" fill="#ff7a7a"/>
<rect x="583" y="610" width="1" height="16" fill="#ff8888"/>
<rect x="586" y="610" width="1" height="16" fill="#ff9696"/>
</g>
</svg></body></html>
